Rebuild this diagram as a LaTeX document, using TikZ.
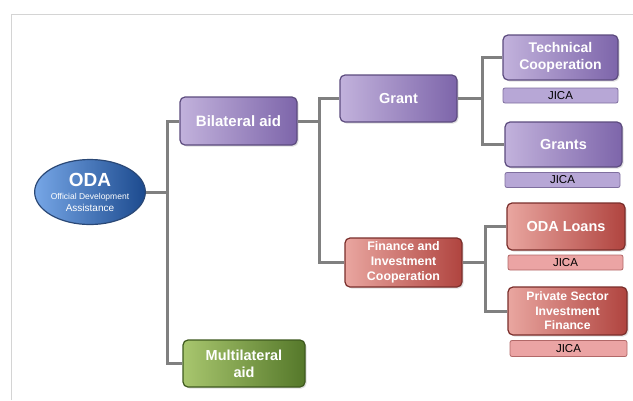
\documentclass[tikz,border=0pt]{standalone}
\usepackage{fontspec}
\setmainfont{Liberation Sans}
\usetikzlibrary{positioning,shapes.geometric,shadows}
\definecolor{linkgray}{HTML}{808080}
\definecolor{framegray}{HTML}{D4D4D4}
\definecolor{purpleL}{HTML}{C2B2DC}
\definecolor{purpleR}{HTML}{7D65AA}
\definecolor{purpleD}{HTML}{5C4B7E}
\definecolor{purpleJ}{HTML}{B7A7D6}
\definecolor{purpleJD}{HTML}{7F6F9F}
\definecolor{redL}{HTML}{E9A6A0}
\definecolor{redR}{HTML}{B0443F}
\definecolor{redD}{HTML}{7A2E2B}
\definecolor{redJ}{HTML}{EBA4A4}
\definecolor{redJD}{HTML}{B26868}
\definecolor{greenL}{HTML}{A8C66E}
\definecolor{greenR}{HTML}{55782A}
\definecolor{greenD}{HTML}{3E591E}
\definecolor{blueL}{HTML}{76A6E6}
\definecolor{blueR}{HTML}{1C4A8E}
\definecolor{blueD}{HTML}{2A4876}

\begin{document}
\begin{tikzpicture}[
    x=1pt, y=-1pt,
    box/.style={rectangle, rounded corners=5pt, line width=1.2pt, text=white,
        align=center, inner sep=0pt, drop shadow={opacity=0.25,shadow xshift=1.5pt,shadow yshift=-1.5pt}},
    purplebox/.style={box, draw=purpleD, left color=purpleL, right color=purpleR},
    redbox/.style={box, draw=redD, left color=redL, right color=redR},
    greenbox/.style={box, draw=greenD, left color=greenL, right color=greenR},
    agency/.style={rectangle, rounded corners=2pt, line width=0.8pt, inner sep=0pt,
        minimum height=15pt, font=\fontsize{11.5}{12}\selectfont},
    purplejica/.style={agency, draw=purpleJD, fill=purpleJ},
    redjica/.style={agency, draw=redJD, fill=redJ},
    link/.style={draw=linkgray, line width=3pt}
]

% frame
\useasboundingbox (0,0) rectangle (633,400);
\draw[framegray, line width=1pt] (11,400) -- (11,14) -- (633,14);

% root
\node[ellipse, draw=blueD, line width=1.2pt, left color=blueL, right color=blueR,
      minimum width=110pt, minimum height=65pt, inner sep=0pt, text=white, align=center]
    (oda) at (90,192)
    {\bfseries\fontsize{19}{20}\selectfont ODA\\[1pt]\mdseries\fontsize{8.5}{10.5}\selectfont Official Development\\Assistance};

% second level
\node[purplebox, minimum width=117pt, minimum height=48pt, font=\bfseries\fontsize{15}{17}\selectfont]
    (bilat) at (238.5,121) {Bilateral aid};
\node[greenbox, minimum width=122pt, minimum height=47pt, font=\bfseries\fontsize{14.5}{17}\selectfont]
    (multi) at (244,363.5) {Multilateral\\aid};

% third level
\node[purplebox, minimum width=117pt, minimum height=47pt, font=\bfseries\fontsize{14.5}{17}\selectfont]
    (grant) at (398.5,98.5) {Grant};
\node[redbox, minimum width=117pt, minimum height=49pt, font=\bfseries\fontsize{12.4}{15}\selectfont]
    (fin) at (403.5,262.5) {Finance and\\Investment\\Cooperation};

% schemes
\node[purplebox, minimum width=115pt, minimum height=45pt, font=\bfseries\fontsize{14}{17}\selectfont]
    (tech) at (560.5,57.5) {Technical\\Cooperation};
\node[purplejica, minimum width=115pt] (jicaA) at (560.5,95.5) {JICA};
\node[purplebox, minimum width=117pt, minimum height=45pt, font=\bfseries\fontsize{14.5}{17}\selectfont]
    (grants) at (563.5,144.5) {Grants};
\node[purplejica, minimum width=115pt] (jicaB) at (562.5,180) {JICA};
\node[redbox, minimum width=118pt, minimum height=47pt, font=\bfseries\fontsize{14.5}{17}\selectfont]
    (loans) at (566,226.5) {ODA Loans};
\node[redjica, minimum width=115pt] (jicaC) at (565.5,262.5) {JICA};
\node[redbox, minimum width=119pt, minimum height=48pt, font=\bfseries\fontsize{12.2}{14.5}\selectfont]
    (priv) at (567.5,311) {Private Sector\\Investment\\Finance};
\node[redjica, minimum width=117pt, minimum height=16pt] (jicaD) at (568.5,348.5) {JICA};

% connectors
\draw[link] (bilat.west) -- ++(-12,0) coordinate (j1) |- (multi.west);
\draw[link] (oda.east) -- (oda.east -| j1);
\draw[link] (bilat.east) -- ++(22,0) coordinate (j2) |- (grant.west);
\draw[link] (j2) |- (fin.west);
\draw[link] (grant.east) -- ++(25,0) coordinate (j3) |- (tech.west);
\draw[link] (j3) |- (grants.west);
\draw[link] (fin.east) -- ++(23,0) coordinate (j4) |- (loans.west);
\draw[link] (j4) |- (priv.west);

\end{tikzpicture}
\end{document}
